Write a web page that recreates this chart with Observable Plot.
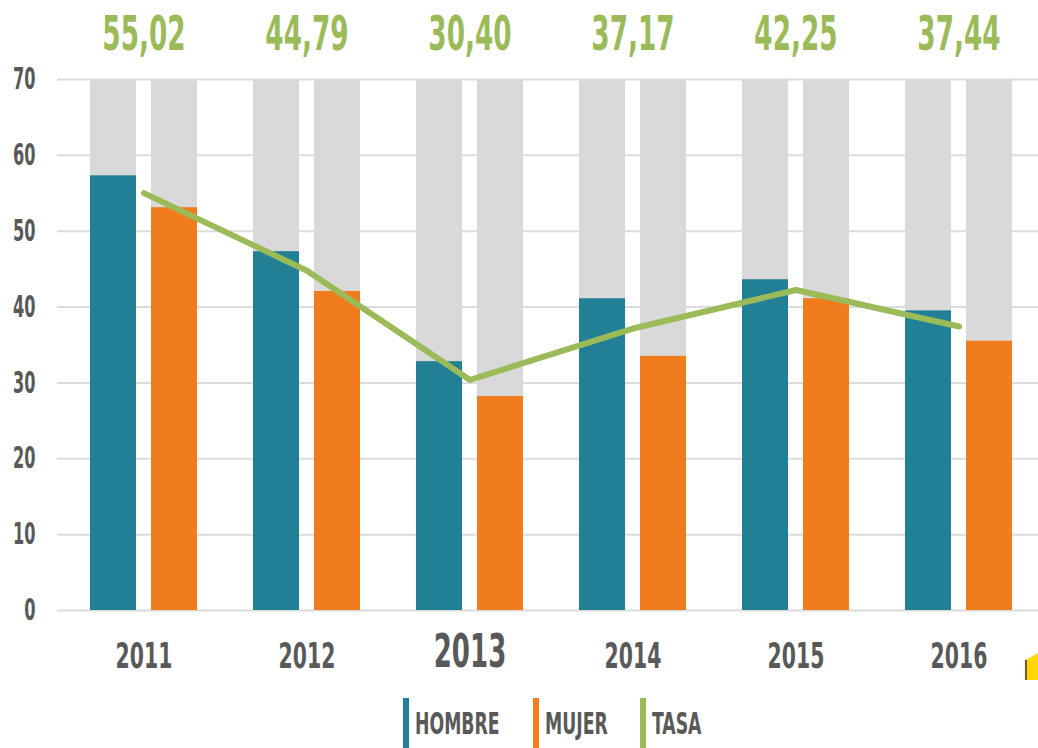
<!DOCTYPE html>
<html>
<head>
<meta charset="utf-8">
<script src="https://cdn.jsdelivr.net/npm/d3@7"></script>
<script src="https://cdn.jsdelivr.net/npm/@observablehq/plot@0.6"></script>
<style>
  html, body { margin: 0; padding: 0; background: #fff; }
  body { width: 1038px; height: 748px; overflow: hidden; position: relative;
         font-family: "DejaVu Sans Condensed", "Liberation Sans", sans-serif; }
  #legend { display: flex; justify-content: center; align-items: center; gap: 33px;
            padding-left: 67px; margin-top: 8px; height: 50px; }
  .item { display: flex; align-items: center; }
  .sw { width: 6px; height: 50px; margin-right: 6px; }
  .lab { font-size: 30px; font-weight: bold; color: #595959; display: inline-block;
         transform-origin: left center; white-space: nowrap; }
  #deco { position: absolute; left: 1025px; top: 652px; width: 13px; height: 28px;
          background: #ffd800; border-left: 2px solid #8a4b1c;
          clip-path: polygon(0 30%, 100% 0, 100% 100%, 0 100%); }
</style>
</head>
<body>
<div id="chart"></div>
<div id="legend"></div>
<div id="deco"></div>
<script>
// ---- data ----
const years = ["2011", "2012", "2013", "2014", "2015", "2016"];
const hombre = [57.3, 47.3, 32.8, 41.1, 43.6, 39.5];
const mujer = [53.1, 42.05, 28.2, 33.5, 41.1, 35.5];
const tasa = [55.02, 44.79, 30.40, 37.17, 42.25, 37.44];
const tasaLabels = ["55,02", "44,79", "30,40", "37,17", "42,25", "37,44"];
const yTicks = [0, 10, 20, 30, 40, 50, 60, 70];
const highlightYear = "2013";
const seriesNames = ["HOMBRE", "MUJER", "TASA"];
const colors = { HOMBRE: "#217f96", MUJER: "#f07c1e", TASA: "#9bbb59" };

const yMax = yTicks[yTicks.length - 1];
const rows = years.map((year, i) => ({
  year, hombre: hombre[i], mujer: mujer[i], tasa: tasa[i], label: tasaLabels[i], top: yMax
}));

const FONT = `"DejaVu Sans Condensed", "Liberation Sans", sans-serif`;
const GRAY_TEXT = "#595959";

const chart = Plot.plot({
  width: 1038,
  height: 690,
  marginLeft: 57,
  marginRight: 0,
  marginTop: 79,
  marginBottom: 80,
  style: { fontFamily: FONT, background: "#fff", overflow: "visible" },
  x: { domain: years, range: [57, 1046], paddingInner: 0.341, paddingOuter: 0.19, axis: null },
  y: { domain: [0, yMax], axis: null },
  marks: [
    Plot.ruleY(yTicks, { stroke: "#dcdcdc", strokeWidth: 2 }),
    // grey background columns
    Plot.barY(rows, { x: "year", y: "top", fill: "#d9d9d9", insetRight: 61 }),
    Plot.barY(rows, { x: "year", y: "top", fill: "#d9d9d9", insetLeft: 61 }),
    // values
    Plot.barY(rows, { x: "year", y: "hombre", fill: colors.HOMBRE, insetRight: 61 }),
    Plot.barY(rows, { x: "year", y: "mujer", fill: colors.MUJER, insetLeft: 61 }),
    Plot.line(rows, { x: "year", y: "tasa", stroke: colors.TASA, strokeWidth: 6,
                      strokeLinecap: "round", strokeLinejoin: "round" }),
    // y axis labels
    Plot.axisY({ ticks: yTicks, tickSize: 0, tickPadding: 22, fontSize: 30, fontWeight: "bold",
                 fill: GRAY_TEXT, label: null, className: "ylab" }),
    // top value labels
    Plot.text(rows, { x: "year", text: "label", frameAnchor: "top", lineAnchor: "top",
                      dy: 15 - 79, fontSize: 48, fontWeight: "bold", fill: colors.TASA, className: "toplab" }),
    // year labels
    Plot.text(rows, { filter: d => d.year !== highlightYear, x: "year", text: "year", frameAnchor: "bottom",
                      lineAnchor: "top", dy: 668 - 610 - 0.73 * 36, fontSize: 36, fontWeight: "bold",
                      fill: GRAY_TEXT, className: "yearlab" }),
    Plot.text(rows, { filter: d => d.year === highlightYear, x: "year", text: "year", frameAnchor: "bottom",
                      lineAnchor: "top", dy: 667 - 610 - 0.73 * 46, fontSize: 46, fontWeight: "bold",
                      fill: GRAY_TEXT, className: "yearlab" })
  ]
});
document.getElementById("chart").appendChild(chart);

// condense text horizontally (reference uses a very narrow typeface)
function condense(selector, f) {
  chart.querySelectorAll(selector).forEach(el => {
    const w = el.getComputedTextLength();
    if (w > 0) {
      el.setAttribute("textLength", (w * f).toFixed(1));
      el.setAttribute("lengthAdjust", "spacingAndGlyphs");
    }
  });
}
condense(".ylab text", 0.6);
condense(".toplab text", 0.61);
condense(".yearlab text", 0.63);

// legend
const legend = d3.select("#legend");
seriesNames.forEach(name => {
  const it = legend.append("div").attr("class", "item");
  it.append("div").attr("class", "sw").style("background", colors[name]);
  it.append("span").attr("class", "lab").text(name);
});
const LF = 0.64;
legend.selectAll(".lab").each(function () {
  const w = this.getBoundingClientRect().width;
  this.style.transform = `scaleX(${LF})`;
  this.style.marginRight = `${-(1 - LF) * w}px`;
});
</script>
</body>
</html>
